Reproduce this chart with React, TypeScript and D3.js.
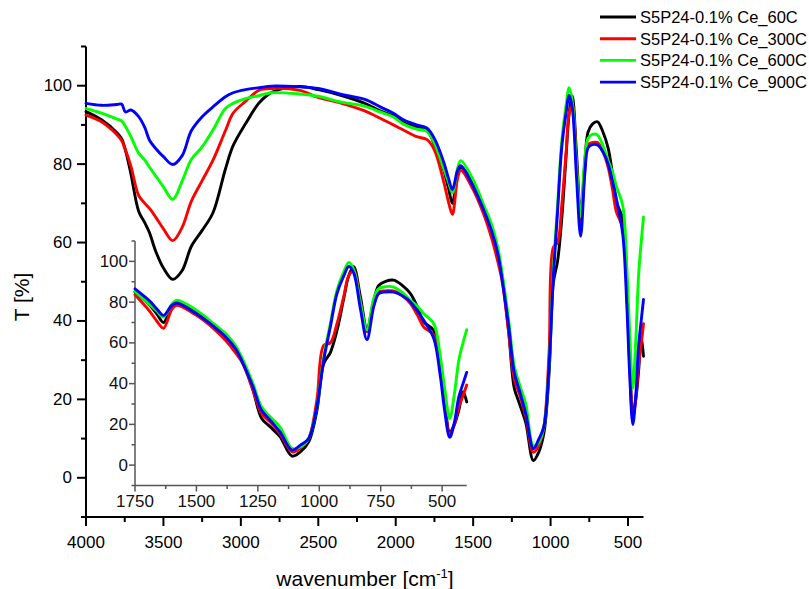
import React from "react";
import * as d3 from "d3";

const wavenumbers = [4000, 3900, 3800, 3770, 3745, 3710, 3660, 3620, 3590, 3550,
  3500, 3440, 3380, 3320, 3250, 3180, 3100, 3050, 2970, 2880,
  2800, 2620, 2500, 2350, 2200, 2100, 2015, 1950, 1865, 1800,
  1750, 1690, 1660, 1634, 1600, 1580, 1500, 1430, 1380, 1340,
  1310, 1270, 1235, 1200, 1160, 1111, 1077, 1043, 1010, 982,
  955, 928, 900, 880, 860, 833, 806, 778, 758, 730,
  697, 660, 629, 600, 575, 534, 507, 490, 469, 450,
  432, 415, 400];

const s60C = [93.4, 91.3, 88.0, 86.5, 83.5, 77.5, 68.0, 65.0, 62.5, 57.8,
  53.5, 50.6, 52.8, 59.0, 63.1, 67.6, 78.7, 84.7, 90.3, 95.7,
  98.3, 99.8, 99.0, 97.5, 95.5, 93.6, 92.3, 90.6, 89.5, 88.7,
  85.0, 78.5, 74.0, 70.0, 77.8, 79.2, 75.0, 68.3, 63.5, 57.0,
  50.5, 37.0, 23.0, 18.8, 14.0, 4.4, 6.5, 11.4, 26.5, 49.8,
  55.2, 66.0, 82.0, 93.0, 97.4, 83.0, 67.0, 80.9, 88.2, 90.2,
  90.8, 88.0, 84.2, 77.5, 70.3, 66.0, 48.0, 32.0, 16.3, 20.0,
  27.0, 36.0, 31.0];

const s300C = [92.5, 90.8, 87.5, 86.0, 83.6, 79.5, 72.0, 70.0, 68.7, 66.5,
  63.5, 60.5, 63.8, 70.5, 75.8, 81.0, 88.5, 93.0, 96.0, 98.9,
  99.3, 98.8, 97.0, 95.5, 93.6, 91.7, 90.0, 88.7, 87.0, 86.3,
  83.6, 75.5, 70.5, 67.2, 76.5, 78.4, 73.5, 67.0, 61.0, 55.0,
  49.5, 36.8, 25.3, 21.2, 15.5, 6.5, 8.2, 13.1, 31.9, 58.8,
  60.0, 69.4, 83.0, 93.0, 95.3, 80.0, 65.4, 79.0, 85.0, 85.5,
  85.5, 83.0, 79.3, 73.5, 67.8, 63.7, 46.6, 30.0, 15.2, 20.0,
  28.6, 34.0, 39.3];

const s600C = [94.2, 93.0, 91.5, 91.0, 89.6, 87.0, 82.8, 81.0, 79.2, 77.0,
  74.2, 71.0, 75.6, 81.2, 84.4, 88.7, 94.2, 95.5, 96.7, 97.5,
  98.2, 97.9, 97.3, 95.8, 94.8, 93.3, 92.0, 90.2, 88.9, 88.4,
  85.3, 78.8, 75.5, 72.7, 79.0, 80.9, 76.0, 69.4, 64.5, 58.5,
  51.5, 40.0, 28.6, 23.7, 18.8, 8.2, 9.0, 13.1, 28.6, 53.0,
  69.4, 85.8, 95.0, 99.5, 96.0, 80.0, 66.5, 82.0, 86.6, 87.6,
  87.4, 84.5, 80.9, 78.0, 74.3, 69.4, 53.1, 38.0, 22.9, 35.0,
  51.5, 60.0, 66.5];

const s900C = [95.5, 95.0, 95.2, 95.3, 93.3, 93.8, 92.1, 89.3, 86.1, 84.0,
  81.9, 79.9, 82.1, 88.5, 92.1, 94.6, 97.2, 98.2, 99.0, 99.5,
  99.9, 99.7, 99.3, 97.8, 96.5, 94.6, 93.0, 91.3, 90.0, 89.2,
  86.5, 80.5, 76.5, 73.5, 78.5, 79.6, 74.3, 68.1, 62.8, 57.0,
  49.8, 38.4, 26.9, 22.1, 16.3, 7.4, 9.8, 13.1, 28.6, 51.5,
  67.8, 84.2, 93.0, 97.5, 94.4, 77.0, 61.6, 78.0, 84.2, 85.0,
  84.9, 83.0, 80.1, 75.5, 71.1, 62.1, 43.3, 27.0, 13.6, 21.0,
  33.5, 40.0, 45.5];

const seriesNames = ["S5P24-0.1% Ce_60C", "S5P24-0.1% Ce_300C", "S5P24-0.1% Ce_600C", "S5P24-0.1% Ce_900C"];
const seriesValues = [s60C, s300C, s600C, s900C];
const seriesColors = ["#000000", "#ff0000", "#00ff00", "#0000ff"];

const mainXTicks = [4000, 3500, 3000, 2500, 2000, 1500, 1000, 500];
const mainXMinor = [3750, 3250, 2750, 2250, 1750, 1250, 750];
const yTicks = [0, 20, 40, 60, 80, 100];
const yMinor = [-10, 10, 30, 50, 70, 90, 110];
const insetXTicks = [1750, 1500, 1250, 1000, 750, 500];
const insetXMinor = [1625, 1375, 1125, 875, 625];

const FONT = "'Liberation Sans', Arial, Helvetica, sans-serif";

export default function App() {
  const W = 809, H = 589;
  const x = d3.scaleLinear().domain([4000, 400]).range([86, 643.5]);
  const y = d3.scaleLinear().domain([-10, 110]).range([517, 46.5]);
  const xi = d3.scaleLinear().domain([1750, 400]).range([135, 466.7]);
  const yi = d3.scaleLinear().domain([-10, 110]).range([485.5, 241]);

  const pts = (vals: number[]) => wavenumbers.map((w, i) => [w, vals[i]] as [number, number]);
  const mainLine = d3.line<[number, number]>().x(d => x(d[0])).y(d => y(d[1])).curve(d3.curveCatmullRom.alpha(0.5));
  const insetLine = d3.line<[number, number]>().x(d => xi(d[0])).y(d => yi(d[1])).curve(d3.curveCatmullRom.alpha(0.5));

  const x0 = x(4000), x1 = x(400), yb = y(-10), yt = y(110);
  const ix0 = xi(1750), ix1 = xi(400), iyb = yi(-10), iyt = yi(110);
  const insetColor = "#555";

  return (
    <svg width={W} height={H} style={{ position: "absolute", left: 0, top: 0, background: "#fff" }} fontFamily={FONT}>
      {/* main axes */}
      <g stroke="#000" strokeWidth={2} fill="none">
        <line x1={x0} x2={x0} y1={yt} y2={yb + 1} />
        <line x1={x0 - 1} x2={x1} y1={yb} y2={yb} />
        {mainXTicks.map(t => <line key={"mx" + t} x1={x(t)} x2={x(t)} y1={yb} y2={yb + 9} />)}
        {mainXMinor.map(t => <line key={"mxm" + t} x1={x(t)} x2={x(t)} y1={yb} y2={yb + 5} />)}
        {yTicks.map(t => <line key={"my" + t} x1={x0} x2={x0 - 9} y1={y(t)} y2={y(t)} />)}
        {yMinor.map(t => <line key={"mym" + t} x1={x0} x2={x0 - 5} y1={y(t)} y2={y(t)} />)}
      </g>
      <g fontSize={17} fill="#000">
        {mainXTicks.map(t => <text key={"lx" + t} x={x(t)} y={548} textAnchor="middle">{t}</text>)}
        {yTicks.map(t => <text key={"ly" + t} x={72} y={y(t)} textAnchor="end" dominantBaseline="central">{t}</text>)}
      </g>
      <text x={365} y={586} textAnchor="middle" fontSize={21}>
        wavenumber [cm<tspan fontSize={13} dy={-8}>-1</tspan><tspan dy={8}>]</tspan>
      </text>
      <text transform="translate(29,297) rotate(-90)" textAnchor="middle" fontSize={21}>T [%]</text>

      {/* inset axes */}
      <g stroke={insetColor} strokeWidth={1.5} fill="none">
        <line x1={ix0} x2={ix0} y1={iyt} y2={iyb} />
        <line x1={ix0} x2={ix1} y1={iyb} y2={iyb} />
        {insetXTicks.map(t => <line key={"ix" + t} x1={xi(t)} x2={xi(t)} y1={iyb} y2={iyb + 6} />)}
        {insetXMinor.map(t => <line key={"ixm" + t} x1={xi(t)} x2={xi(t)} y1={iyb} y2={iyb + 3.5} />)}
        {yTicks.map(t => <line key={"iy" + t} x1={ix0} x2={ix0 - 6} y1={yi(t)} y2={yi(t)} />)}
        {yMinor.map(t => <line key={"iym" + t} x1={ix0} x2={ix0 - 3.5} y1={yi(t)} y2={yi(t)} />)}
      </g>
      <g fontSize={17} fill="#111">
        {insetXTicks.map(t => <text key={"ilx" + t} x={xi(t)} y={507} textAnchor="middle">{t}</text>)}
        {yTicks.map(t => <text key={"ily" + t} x={128} y={yi(t)} textAnchor="end" dominantBaseline="central">{t}</text>)}
      </g>

      {/* main curves */}
      <g fill="none" strokeWidth={2.9} strokeLinejoin="round" strokeLinecap="round">
        {seriesValues.map((v, i) => <path key={"m" + i} d={mainLine(pts(v)) || ""} stroke={seriesColors[i]} />)}
      </g>
      {/* inset curves */}
      <g fill="none" strokeWidth={2.9} strokeLinejoin="round" strokeLinecap="round">
        {seriesValues.map((v, i) => <path key={"i" + i} d={insetLine(pts(v).filter(p => p[0] <= 1750)) || ""} stroke={seriesColors[i]} />)}
      </g>

      {/* legend */}
      <g fontSize={16.5}>
        {seriesNames.map((n, i) => (
          <g key={"lg" + i} transform={`translate(0,${17 + i * 21.7})`}>
            <line x1={600} x2={636} y1={0} y2={0} stroke={seriesColors[i]} strokeWidth={2.9} />
            <text x={640} y={0} dominantBaseline="central" fill="#000">{n}</text>
          </g>
        ))}
      </g>
    </svg>
  );
}
